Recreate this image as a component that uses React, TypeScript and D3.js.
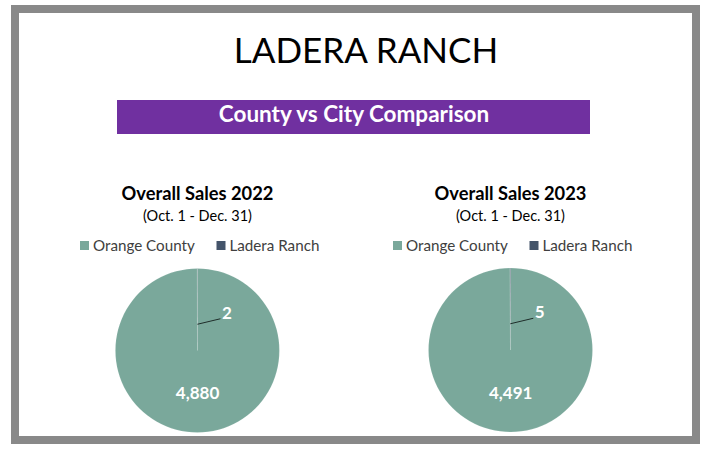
import React, { useRef, useEffect } from 'react';
import * as d3 from 'd3';

const categories = ['Orange County', 'Ladera Ranch'];
const sales2022 = [4880, 2];
const sales2023 = [4491, 5];
const pieTitles = ['Overall Sales 2022', 'Overall Sales 2023'];
const pieSubtitle = '(Oct. 1 - Dec. 31)';
const mainTitle = 'LADERA RANCH';
const bannerText = 'County vs City Comparison';

export default function App() {
  const ref = useRef<HTMLDivElement>(null);

  useEffect(() => {
    if (!ref.current) return;
    d3.select(ref.current).selectAll('*').remove();

    const width = 704;
    const height = 449;
    const font = 'Lato, "Open Sans", sans-serif';

    const svg = d3.select(ref.current)
      .append('svg')
      .attr('width', width)
      .attr('height', height)
      .style('display', 'block');

    svg.append('rect').attr('width', width).attr('height', height).attr('fill', '#fff');

    // grey frame
    svg.append('rect')
      .attr('x', 15).attr('y', 9)
      .attr('width', 681).attr('height', 431)
      .attr('fill', '#fff')
      .attr('stroke', '#898989')
      .attr('stroke-width', 8);

    svg.append('text')
      .attr('x', 366).attr('y', 62.5)
      .attr('text-anchor', 'middle')
      .attr('font-family', font)
      .attr('font-size', 35)
      .attr('fill', '#000')
      .text(mainTitle);

    // purple banner
    svg.append('rect')
      .attr('x', 117).attr('y', 100)
      .attr('width', 473).attr('height', 34)
      .attr('fill', '#7030A0');

    svg.append('text')
      .attr('x', 354).attr('y', 122)
      .attr('text-anchor', 'middle')
      .attr('font-family', font)
      .attr('font-weight', 700)
      .attr('font-size', 22.5)
      .attr('fill', '#fff')
      .text(bannerText);

    const color = d3.scaleOrdinal<string, string>()
      .domain(categories)
      .range(['#7AA89B', '#44546A']);

    const r = 82;
    const pie = d3.pie<number>().sort(null).value(d => d);
    const arc = d3.arc<d3.PieArcDatum<number>>().innerRadius(0).outerRadius(r);
    const labelArc = d3.arc<d3.PieArcDatum<number>>().innerRadius(r * 0.53).outerRadius(r * 0.53);
    const leaderArc = d3.arc<d3.PieArcDatum<number>>().innerRadius(r * 0.64).outerRadius(r * 0.64);

    const panels = [
      { cx: 197.5, cy: 350.5, values: sales2022, title: pieTitles[0] },
      { cx: 510.5, cy: 350, values: sales2023, title: pieTitles[1] },
    ];

    panels.forEach(p => {
      const g = svg.append('g');

      g.append('text')
        .attr('x', p.cx).attr('y', 199.5)
        .attr('text-anchor', 'middle')
        .attr('font-family', font)
        .attr('font-weight', 700)
        .attr('font-size', 18.3)
        .attr('fill', '#000')
        .text(p.title);

      g.append('text')
        .attr('x', p.cx).attr('y', 221)
        .attr('text-anchor', 'middle')
        .attr('font-family', font)
        .attr('font-size', 14.5)
        .attr('fill', '#000')
        .text(pieSubtitle);

      // legend
      const legendX = [-117.5, 19];
      categories.forEach((c, i) => {
        const lg = g.append('g').attr('transform', `translate(${p.cx + legendX[i]},241)`);
        lg.append('rect').attr('width', 9).attr('height', 9).attr('fill', color(c));
        lg.append('text')
          .attr('x', 13).attr('y', 9.5)
          .attr('font-family', font)
          .attr('font-size', 15.2)
          .attr('fill', '#404040')
          .text(c);
      });

      const arcs = pie(p.values);
      const pg = g.append('g').attr('transform', `translate(${p.cx},${p.cy})`);

      pg.selectAll('path')
        .data(arcs)
        .enter()
        .append('path')
        .attr('d', arc)
        .attr('fill', (d, i) => color(categories[i]))
        .attr('stroke', '#fff')
        .attr('stroke-opacity', 0.2)
        .attr('stroke-width', 0.6);

      // big slice label
      const big = arcs[0];
      const [bx, by] = labelArc.centroid(big);
      pg.append('text')
        .attr('x', bx).attr('y', by + 5.5)
        .attr('text-anchor', 'middle')
        .attr('font-family', font)
        .attr('font-weight', 700)
        .attr('font-size', 17)
        .attr('fill', '#fff')
        .text(d3.format(',')(big.data));

      // small slice label with leader line
      const small = arcs[1];
      const [sx0] = leaderArc.centroid(small);
      const sy0 = -r * 0.32;
      const ex = sx0 + 23;
      const ey = sy0 - 5.5;
      pg.append('line')
        .attr('x1', sx0).attr('y1', sy0)
        .attr('x2', ex).attr('y2', ey)
        .attr('stroke', '#1f2d2a')
        .attr('stroke-width', 1);
      pg.append('text')
        .attr('x', ex + 1.5).attr('y', ey)
        .attr('font-family', font)
        .attr('font-weight', 700)
        .attr('font-size', 17)
        .attr('fill', '#fff')
        .text(d3.format(',')(small.data));
    });
  }, []);

  return <div ref={ref} style={{ position: 'absolute', left: 0, top: 0 }} />;
}
